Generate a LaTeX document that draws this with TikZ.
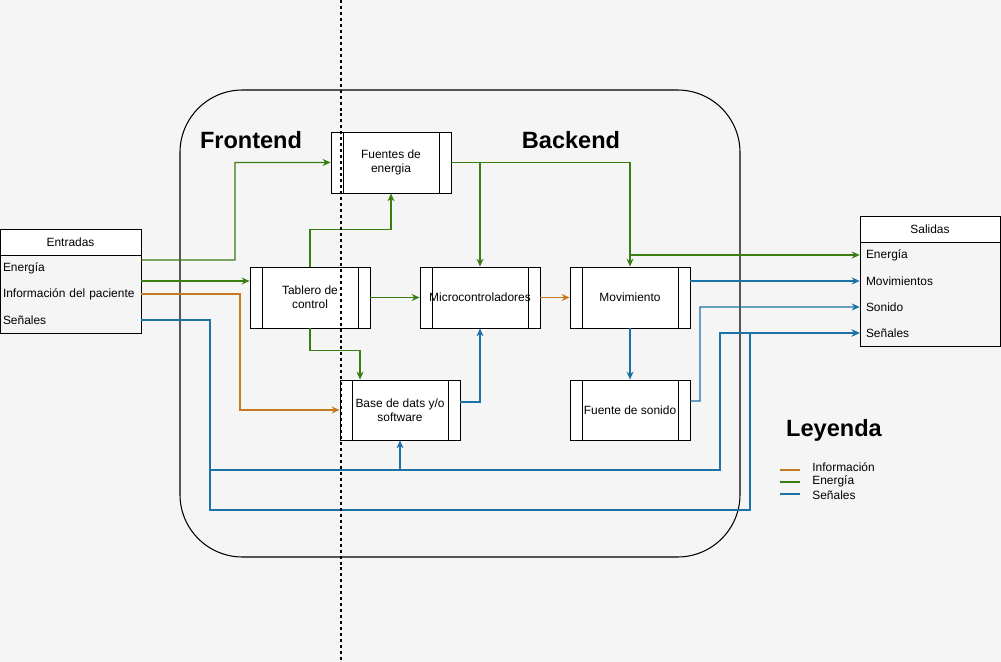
\documentclass[tikz,border=0pt]{standalone}
\usepackage{fontspec}
\setmainfont{Liberation Sans}
\usetikzlibrary{arrows.meta,positioning,calc}
\definecolor{cINF}{HTML}{C47A1E}
\definecolor{cENE}{HTML}{3A7D12}
\definecolor{cSEN}{HTML}{1B72A4}
\definecolor{cBG}{HTML}{F5F5F5}

\tikzset{
  proc/.style={draw, fill=white, line width=0.55pt, minimum width=2.4cm,
    minimum height=1.22cm, align=center, inner sep=1pt,
    path picture={\draw[line width=0.55pt]
      ([xshift=0.24cm]path picture bounding box.north west) -- ([xshift=0.24cm]path picture bounding box.south west)
      ([xshift=-0.24cm]path picture bounding box.north east) -- ([xshift=-0.24cm]path picture bounding box.south east);}},
  thead/.style={draw, fill=white, line width=0.55pt, minimum height=0.52cm, inner sep=0pt},
  tbody/.style={draw, line width=0.55pt, inner sep=0pt},
  trow/.style={text width=2.7cm, align=left, inner xsep=0.06cm, inner ysep=0pt, minimum height=0.4cm},
  ene/.style={draw=cENE, line width=0.6pt},
  inf/.style={draw=cINF, line width=0.6pt},
  sen/.style={draw=cSEN, line width=0.6pt},
  titulo/.style={font=\fontsize{13.4}{15}\selectfont\bfseries}
}

\begin{document}
\begin{tikzpicture}[x=0.02cm, y=-0.02cm, font=\fontsize{6.8}{8.2}\selectfont,
  >={Stealth[length=4.5pt,width=4pt]}]
\fill[cBG] (0,0) rectangle (1001,662);
\useasboundingbox (0,0) rectangle (1001,662);

% contenedor
\draw[line width=0.6pt, rounded corners=1.25cm] (180,90) rectangle (740,557);
\node[titulo] (front) at (251,140) {Frontend};
\node[titulo] (back) at (571,140) {Backend};

% entradas
\node[thead, minimum width=2.82cm] (ent) at (70.5,242) {Entradas};
\node[tbody, minimum width=2.82cm, minimum height=1.56cm, below=0pt of ent] (entB) {};
\node[trow] (eEn) at (70.5,268) {Energía};
\node[trow] (eIn) at (70.5,294) {Información del paciente};
\node[trow] (eSe) at (70.5,320) {Señales};

% salidas
\node[thead, minimum width=2.8cm] (sal) at (930,229) {Salidas};
\node[tbody, minimum width=2.8cm, minimum height=2.08cm, below=0pt of sal] (salB) {};
\node[trow, text width=2.56cm, inner xsep=0.12cm] (sEn) at (930,255) {Energía};
\node[trow, text width=2.56cm, inner xsep=0.12cm] (sMo) at (930,281) {Movimientos};
\node[trow, text width=2.56cm, inner xsep=0.12cm] (sSo) at (930,307) {Sonido};
\node[trow, text width=2.56cm, inner xsep=0.12cm] (sSe) at (930,333) {Señales};

% bloques
\node[proc] (fue) at (391,162.5) {Fuentes de\\energia};
\node[proc] (tab) at (310,297.5) {Tablero de\\control};
\node[proc] (mic) at (480,297.5) {Microcontroladores};
\node[proc] (mov) at (630,297.5) {Movimiento};
\node[proc, minimum height=1.2cm] (bas) at (400,410) {Base de dats y/o\\software};
\node[proc, minimum height=1.2cm] (son) at (630,410) {Fuente de sonido};

% energia
\draw[ene, ->] ([yshift=0.16cm]eEn.east) -- (235,260) |- (fue.west);
\draw[ene, ->] ([yshift=-0.26cm]eEn.east) coordinate (e2) -- (e2 -| tab.west);
\draw[ene, ->] (tab.north) -- ++(0,-37) -| (fue.south);
\draw[ene, ->] (tab.south) -- ++(0,22) -| ([xshift=-0.8cm]bas.north);
\draw[ene, ->] (tab.east) -- (mic.west);
\draw[ene, ->] (fue.east) -| (mov.north);
\draw[ene, ->] (fue.east -| mic.north) -- (mic.north);
\draw[ene, ->] (mov.north |- sEn.west) -- (sEn.west);

% informacion
\draw[inf, ->] (eIn.east) -- (240,294) |- (bas.west);
\draw[inf, ->] (mic.east) -- (mov.west);

% senales
\draw[sen, ->] (eSe.east) -| (210,510) -- (750,510) |- (sSe.west);
\coordinate (jS) at (210,470);
\draw[sen, ->] (jS) -- (720,470) |- (sSe.west);
\draw[sen, ->] (bas.south |- jS) -- (bas.south);
\draw[sen, ->] ([yshift=0.16cm]bas.east) -| (mic.south);
\draw[sen, ->] (mov.south) -- (son.north);
\draw[sen, ->] (sMo.west -| mov.east) -- (sMo.west);
\draw[sen, ->] ([yshift=0.18cm]son.east) -- (700,401) |- (sSo.west);

% leyenda
\node[titulo] (ley) at (834,430) {Leyenda};
\node[anchor=west, inner sep=0pt] (lgI) at (812,467) {Información};
\node[anchor=west, inner sep=0pt] (lgE) at (812,481) {Energía};
\node[anchor=west, inner sep=0pt] (lgS) at (812,495) {Señales};
\draw[inf] ([xshift=-0.64cm, yshift=-0.06cm]lgI.west) -- ++(20,0);
\draw[ene] ([xshift=-0.64cm, yshift=-0.02cm]lgE.west) -- ++(20,0);
\draw[sen] ([xshift=-0.64cm, yshift=0.02cm]lgS.west) -- ++(20,0);

% division
\draw[line width=0.6pt, dash pattern=on 1.7pt off 1.7pt] (341,0) -- (341,662);
\end{tikzpicture}
\end{document}
